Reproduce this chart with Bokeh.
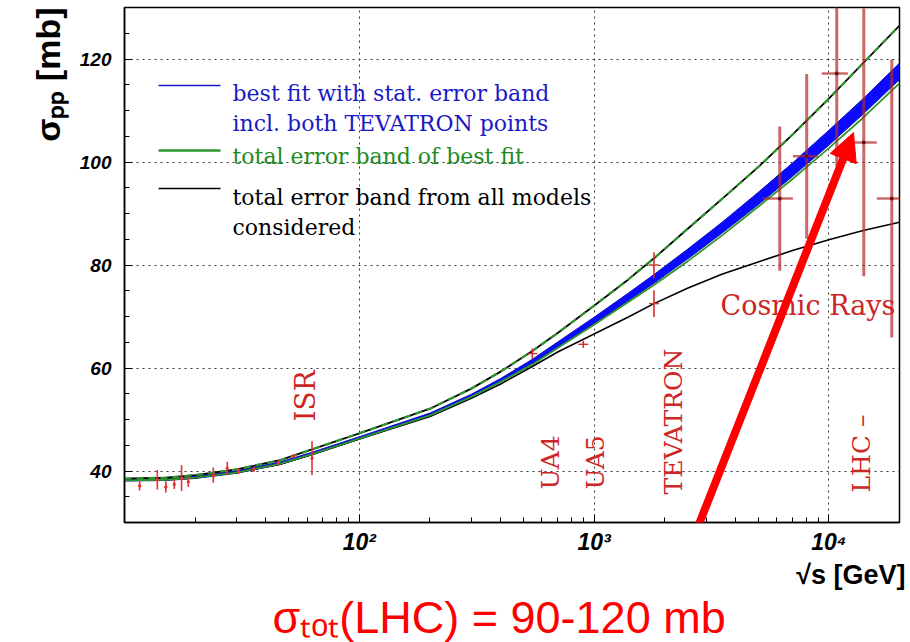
import numpy as np
from bokeh.plotting import figure
from bokeh.models import (Range1d, FixedTicker, SingleIntervalTicker, Label, Arrow,
                          NormalHead, CustomJSTickFormatter, Title)
from bokeh.embed import file_html
from bokeh.resources import INLINE

# ---------------- data ----------------
energy = [10, 15, 20, 30, 46, 62, 100, 200, 300, 400, 546, 700, 1000, 1400, 1800,
          2500, 3500, 5000, 7000, 10000, 14000, 20000]
upper_all = [38.5, 38.7, 39.2, 40.3, 42.1, 44.1, 47.3, 52.1, 56.0, 59.3, 63.3, 66.8, 72.1,
             77.2, 81.3, 87.0, 92.8, 99.0, 105.3, 112.3, 119.2, 126.5]
best_fit = [38.3, 38.4, 38.8, 39.8, 41.5, 43.3, 46.4, 51.0, 54.6, 57.6, 61.2, 64.5, 69.2,
            73.8, 77.3, 82.1, 87.2, 92.9, 98.5, 104.7, 110.8, 117.6]
best_stat = [0.25, 0.25, 0.25, 0.25, 0.25, 0.25, 0.25, 0.25, 0.3, 0.35, 0.5, 0.55, 0.65,
             0.75, 0.85, 0.95, 1.05, 1.2, 1.3, 1.45, 1.5, 1.6]
green_low = [38.2, 38.3, 38.7, 39.7, 41.4, 43.2, 46.3, 50.8, 54.4, 57.3, 60.7, 63.9, 68.4,
             72.8, 76.1, 80.7, 85.7, 91.3, 96.7, 102.7, 108.6, 115.3]
lower_all = [38.2, 38.3, 38.7, 39.7, 41.3, 43.1, 46.2, 50.6, 54.1, 56.9, 60.3, 63.1, 66.6,
             69.9, 72.5, 75.5, 78.2, 80.6, 82.8, 84.9, 86.7, 88.3]

isr_e = [11.6, 13.8, 15.0, 16.3, 17.5, 18.7, 23.9, 27.4, 30.6, 35.5, 45.3, 52.5, 62.9]
isr_sig = [37.1, 38.3, 36.9, 37.4, 38.6, 37.9, 39.2, 40.5, 40.0, 40.3, 41.6, 42.9, 42.5]
isr_err = [0.9, 1.9, 1.1, 0.9, 2.5, 1.0, 1.5, 1.3, 0.6, 0.5, 0.5, 0.4, 3.3]

coll_e = [546, 900, 1800, 1800]
coll_sig = [62.8, 64.6, 80.0, 72.5]
coll_err = [1.0, 0.7, 2.5, 2.6]

cr_e = [6180, 8050, 10810, 14090, 18540]
cr_sig = [92.9, 101.1, 117.2, 103.8, 92.9]
cr_err = [14, 16, 18, 26, 27]
cr_e_lo = [5240, 7030, 9330, 12530, 16000]
cr_e_hi = [7030, 8980, 12050, 16000, 21500]

x_ticks = [100, 1000, 10000]
x_tick_labels = ["10\u00b2", "10\u00b3", "10\u2074"]
legend_texts = ["best fit with stat. error band", "incl. both TEVATRON points",
                "total error band of best fit", "total error band from all models",
                "considered"]
exp_labels = ["ISR", "UA4", "UA5", "TEVATRON", "LHC \u2013"]
y_title = "\u03c3\u209a\u209a [mb]"
x_title = "\u221as [GeV]"
note_text = "\u03c3\u209c\u2092\u209c(LHC) = 90-120 mb"

# ---------------- layout helpers (screen px -> data) ----------------
W, H = 910, 642
FL, FR, FT, FB = 124, 899, 7, 522
XMIN, XMAX, YMIN, YMAX = 10.0, 2.0e4, 30.0, 130.0


def X(px):
    return 10 ** (np.log10(XMIN) + (px - FL) / (FR - FL) * np.log10(XMAX / XMIN))


def Y(py):
    return YMIN + (FB - py) / (FB - FT) * (YMAX - YMIN)


p = figure(width=W, height=H, x_axis_type="log",
           x_range=Range1d(XMIN, XMAX), y_range=Range1d(YMIN, YMAX),
           output_backend="svg", toolbar_location=None,
           min_border_left=FL, min_border_right=W - FR,
           min_border_top=FT, min_border_bottom=H - FB)
p.background_fill_color = "white"
p.border_fill_color = "white"
p.outline_line_color = "black"
p.outline_line_width = 1.5

# axes
minor_x = [m * d for d in (10, 100, 1000, 10000) for m in range(2, 10) if m * d < XMAX]
p.xaxis.ticker = FixedTicker(ticks=x_ticks, minor_ticks=minor_x)
p.xgrid.ticker = FixedTicker(ticks=x_ticks)
p.yaxis.ticker = SingleIntervalTicker(interval=20, num_minor_ticks=4)
js_map = "{" + ",".join("%d:'%s'" % (t, l) for t, l in zip(x_ticks, x_tick_labels)) + "}"
p.xaxis.formatter = CustomJSTickFormatter(
    code="const m = %s; const k = Math.round(tick); return (k in m) ? m[k] : '';" % js_map)
for ax in (p.xaxis, p.yaxis):
    ax.axis_line_color = "black"
    ax.axis_line_width = 1.5
    ax.major_tick_in = 8
    ax.major_tick_out = 0
    ax.minor_tick_in = 5
    ax.minor_tick_out = 0
    ax.major_tick_line_color = "black"
    ax.minor_tick_line_color = "black"
    ax.major_label_text_font = "Liberation Sans"
    ax.major_label_text_font_style = "bold italic"
    ax.major_label_text_color = "black"
p.yaxis.major_label_text_font_size = "19px"
p.yaxis.major_label_standoff = 13
p.xaxis.major_label_text_font_size = "23px"
p.xaxis.major_label_standoff = 6

for g in (p.xgrid, p.ygrid):
    g.grid_line_color = "#333333"
    g.grid_line_dash = "2 4"
    g.grid_line_width = 1


def set_opt(model, **kw):
    for k, v in kw.items():
        try:
            setattr(model, k, v)
        except AttributeError:
            pass


# titles in the side panels (outside the frame)
t_y = Title(text=y_title, align="right", text_font="Liberation Sans",
            text_font_style="bold", text_font_size="34px", text_color="black")
set_opt(t_y, standoff=20, offset=0)
p.add_layout(t_y, "left")

t_x = Title(text=x_title, align="right", text_font="Liberation Sans",
            text_font_style="bold", text_font_size="27px", text_color="black")
set_opt(t_x, standoff=0, offset=-6)
p.add_layout(t_x, "below")

t_n = Title(text=note_text, align="left", text_font="Liberation Sans",
            text_font_style="normal", text_font_size="45px", text_color="#ff0000")
set_opt(t_n, standoff=0, offset=148)
p.add_layout(t_n, "below")

# ---------------- curves ----------------
bf = np.array(best_fit)
st = np.array(best_stat)
p.varea(x=energy, y1=bf - st, y2=bf + st, fill_color="#0a0aff", fill_alpha=1.0)
p.line(energy, bf - st, line_color="#1010c0", line_width=1)
p.line(energy, bf + st, line_color="#1010c0", line_width=1)
p.line(energy, lower_all, line_color="black", line_width=1.6)
p.line(energy, green_low, line_color="#2e962e", line_width=1.8)
p.line(energy, upper_all, line_color="black", line_width=1.8)
p.line(energy, upper_all, line_color="#2e962e", line_width=2.2, line_dash="7 5")

# ---------------- data points ----------------
ie = np.array(isr_e); isg = np.array(isr_sig); ier = np.array(isr_err)
p.segment(x0=ie, y0=isg - ier, x1=ie, y1=isg + ier, line_color="#e5322d", line_width=1.6)
p.scatter(ie, isg, size=4, marker="diamond", color="#e5322d")

ce = np.array(coll_e); cs = np.array(coll_sig); cer = np.array(coll_err)
cap = 10 ** (5 / 235)
p.segment(x0=ce, y0=cs - cer, x1=ce, y1=cs + cer, line_color="#d2302c", line_width=1.6)
p.segment(x0=ce / cap, y0=cs, x1=ce * cap, y1=cs, line_color="#d2302c", line_width=1.4)

ce2 = np.array(cr_e); cs2 = np.array(cr_sig); cer2 = np.array(cr_err)
p.segment(x0=ce2, y0=cs2 - cer2, x1=ce2, y1=cs2 + cer2, line_color="#b22a2a",
          line_width=3, line_alpha=0.7)
p.segment(x0=cr_e_lo, y0=cs2, x1=cr_e_hi, y1=cs2, line_color="#b22a2a",
          line_width=2.5, line_alpha=0.7)
p.scatter(ce2, cs2, size=3, color="#601010")

# ---------------- experiment labels ----------------
RED_T = "#cc2626"
exp_px = [(305, 421), (550, 489), (595, 489), (673, 494), (861, 492)]
exp_size = ["28px", "25px", "25px", "25px", "25px"]
for t, (bx, by), fs in zip(exp_labels, exp_px, exp_size):
    p.add_layout(Label(x=X(bx), y=Y(by), text=t, angle=np.pi / 2,
                       text_font="DejaVu Serif", text_font_size=fs,
                       text_color=RED_T, text_baseline="alphabetic", text_align="left"))
p.add_layout(Label(x=X(720), y=Y(305), text="Cosmic Rays", text_font="DejaVu Serif",
                   text_font_size="27px", text_color=RED_T, text_baseline="alphabetic"))

# ---------------- legend ----------------
leg_colors = ["#1a1ac4", "#1a1ac4", "#1f8a1f", "black", "black"]
leg_base = [93, 123, 156, 197, 227]
for t, c, b in zip(legend_texts, leg_colors, leg_base):
    p.add_layout(Label(x=X(232), y=Y(b), text=t, text_font="DejaVu Serif",
                       text_font_size="22px", text_color=c, text_baseline="alphabetic"))
p.segment(x0=[X(158)] * 3, x1=[X(220)] * 3, y0=[Y(85), Y(150), Y(188)],
          y1=[Y(85), Y(150), Y(188)], line_color=["#1a1ac4", "#2e962e", "black"],
          line_width=[1.5, 2.5, 1.5])

# ---------------- arrow ----------------
arrow_e = [X(683), X(853)]
arrow_s = [Y(563), Y(132)]
p.add_layout(Arrow(end=NormalHead(size=28, fill_color="#ff0000", line_color="#ff0000"),
                   x_start=arrow_e[0], y_start=arrow_s[0], x_end=arrow_e[1], y_end=arrow_s[1],
                   line_color="#ff0000", line_width=8))

open("out.html", "w").write(file_html(p, INLINE))
